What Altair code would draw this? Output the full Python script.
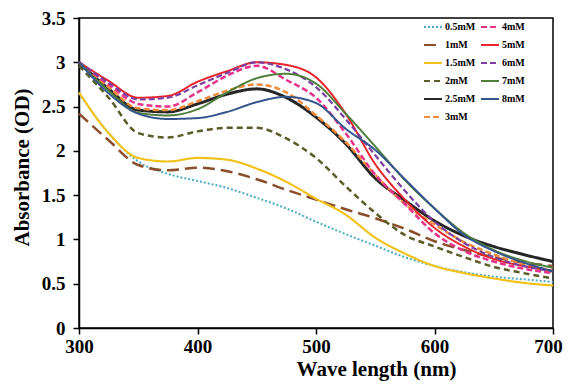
import altair as alt
import pandas as pd

wavelengths = [300, 325, 350, 375, 400, 425, 450, 475, 500, 525, 550, 575, 600, 625, 650, 675, 700]

series_names = ["0.5mM", "1mM", "1.5mM", "2mM", "2.5mM", "3mM", "4mM", "5mM", "6mM", "7mM", "8mM"]

a_05 = [2.65, 2.20, 1.88, 1.74, 1.66, 1.58, 1.47, 1.35, 1.20, 1.06, 0.93, 0.80, 0.70, 0.63, 0.58, 0.55, 0.52]
a_1 = [2.42, 2.12, 1.84, 1.78, 1.81, 1.77, 1.68, 1.56, 1.45, 1.34, 1.24, 1.12, 0.98, 0.88, 0.80, 0.74, 0.70]
a_15 = [2.66, 2.20, 1.92, 1.88, 1.92, 1.90, 1.80, 1.65, 1.46, 1.28, 1.02, 0.84, 0.70, 0.62, 0.56, 0.51, 0.48]
a_2 = [2.96, 2.60, 2.20, 2.15, 2.22, 2.26, 2.26, 2.14, 1.92, 1.60, 1.30, 1.05, 0.92, 0.80, 0.69, 0.62, 0.56]
a_25 = [3.00, 2.70, 2.46, 2.44, 2.53, 2.64, 2.70, 2.60, 2.38, 2.08, 1.69, 1.44, 1.21, 1.04, 0.92, 0.83, 0.75]
a_3 = [3.00, 2.72, 2.48, 2.46, 2.56, 2.68, 2.75, 2.66, 2.40, 2.10, 1.73, 1.40, 1.17, 0.97, 0.83, 0.72, 0.63]
a_4 = [3.00, 2.75, 2.53, 2.50, 2.66, 2.85, 2.96, 2.80, 2.60, 2.20, 1.73, 1.40, 1.07, 0.87, 0.75, 0.67, 0.62]
a_5 = [3.00, 2.79, 2.60, 2.62, 2.78, 2.90, 3.00, 2.97, 2.83, 2.42, 1.85, 1.45, 1.13, 0.92, 0.78, 0.70, 0.65]
a_6 = [3.00, 2.77, 2.58, 2.60, 2.74, 2.88, 3.00, 2.92, 2.72, 2.36, 1.95, 1.55, 1.20, 0.96, 0.80, 0.70, 0.64]
a_7 = [3.00, 2.68, 2.43, 2.40, 2.47, 2.66, 2.82, 2.87, 2.76, 2.42, 2.05, 1.67, 1.35, 1.07, 0.88, 0.76, 0.68]
a_8 = [3.00, 2.65, 2.42, 2.36, 2.37, 2.44, 2.55, 2.61, 2.54, 2.25, 2.01, 1.68, 1.35, 1.05, 0.87, 0.74, 0.64]

all_values = [a_05, a_1, a_15, a_2, a_25, a_3, a_4, a_5, a_6, a_7, a_8]

colors = ["#4BACC6", "#8B4E2A", "#F2C21B", "#5C5C28", "#262626", "#F08C3C",
          "#E8318A", "#E8242C", "#7A3FA0", "#4F7F3A", "#34568C"]
dashes = [[2, 2], [12, 6], [1, 0], [6, 4], [1, 0], [6, 3], [6, 3], [1, 0], [6, 3], [1, 0], [1, 0]]
widths = [2, 2.5, 2.2, 2.5, 3, 2.5, 2.5, 2, 2.2, 2, 2]

idx = {n: i for i, n in enumerate(series_names)}

rows = []
for name, vals in zip(series_names, all_values):
    for w, v in zip(wavelengths, vals):
        rows.append({"wl": w, "abs": v, "series": name, "sw": widths[idx[name]]})
df = pd.DataFrame(rows)

font = "Liberation Serif"

legend = alt.Legend(
    title=None, orient="none", legendX=344, legendY=-1, columns=2,
    symbolType="stroke", symbolSize=324, symbolStrokeWidth=2,
    labelFont=font, labelFontWeight="bold", labelFontSize=10, labelColor="black",
    rowPadding=3, columnPadding=1, labelOffset=2, labelLimit=60,
)

chart = alt.Chart(df).mark_line(interpolate="monotone").encode(
    x=alt.X("wl:Q", scale=alt.Scale(domain=[300, 700], nice=False),
            axis=alt.Axis(values=[300, 400, 500, 600, 700], title="Wave length (nm)",
                          grid=False, tickSize=6, labelPadding=3, labelFlush=False,
                          labelOffset={"condition": {"test": "datum.value === 700", "value": -5},
                                       "value": 0},
                          titleX=297, titleY=30, titleAlign="center", titleBaseline="top")),
    y=alt.Y("abs:Q", scale=alt.Scale(domain=[0, 3.5], nice=False),
            axis=alt.Axis(values=[0, 0.5, 1, 1.5, 2, 2.5, 3, 3.5], title="Absorbance (OD)",
                          grid=False, tickSize=6, labelPadding=8, labelFlush=False,
                          titleX=-47, titleY=149, titleAlign="center", titleBaseline="bottom",
                          labelExpr="'' + datum.value")),
    color=alt.Color("series:N", scale=alt.Scale(domain=series_names, range=colors), legend=legend),
    strokeDash=alt.StrokeDash("series:N", scale=alt.Scale(domain=series_names, range=dashes),
                              legend=legend),
    strokeWidth=alt.StrokeWidth("sw:Q", scale=None),
    detail="series:N",
).properties(
    width=474, height=310,
    autosize=alt.AutoSizeParams(type="none"),
    padding={"left": 71, "top": 10, "right": 10, "bottom": 53},
).configure_view(
    stroke="black", strokeWidth=1.5
).configure_axis(
    domainColor="black", domainWidth=1.5, tickColor="black", tickWidth=1.5,
    labelFont=font, labelFontWeight="bold", labelFontSize=19, labelColor="black",
    titleFont=font, titleFontWeight="bold", titleFontSize=21, titleColor="black",
)

chart.save("out.html", embed_options={"renderer": "svg", "actions": False})
